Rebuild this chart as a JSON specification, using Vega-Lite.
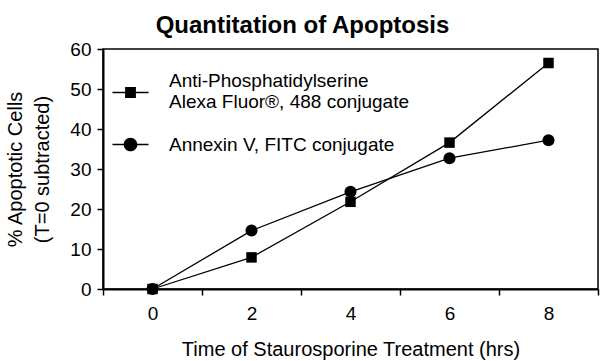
{
  "$schema": "https://vega.github.io/schema/vega-lite/v6.json",
  "width": 495,
  "height": 240,
  "autosize": {"type": "none"},
  "padding": {"left": 103, "top": 49, "right": 2, "bottom": 72},
  "background": "white",
  "config": {
    "font": "Liberation Sans",
    "view": {"stroke": "black", "strokeWidth": 1.5},
    "axis": {"grid": false, "domainColor": "black", "domainWidth": 2, "tickColor": "black", "tickWidth": 1.5, "labelColor": "black", "titleColor": "black", "labelFont": "Liberation Sans", "titleFont": "Liberation Sans", "titleFontWeight": "normal"},
    "legend": {
      "title": null,
      "orient": "none",
      "legendX": 9,
      "legendY": 13,
      "padding": 0,
      "symbolSize": 1300,
      "symbolStrokeWidth": 0,
      "symbolFillColor": "black",
      "symbolOpacity": 1,
      "labelFontSize": 19,
      "labelLineHeight": 24,
      "labelColor": "black",
      "labelLimit": 400,
      "labelOffset": 20,
      "rowPadding": 14
    }
  },
  "title": {
    "text": "Quantitation of Apoptosis",
    "fontSize": 24,
    "fontWeight": "bold",
    "color": "black",
    "font": "Liberation Sans",
    "anchor": "middle",
    "dx": -48,
    "offset": 2
  },
  "data": {
    "values": [
      {"time": 0, "pct": 0, "series": "Anti-Phosphatidylserine|Alexa Fluor®, 488 conjugate"},
      {"time": 2, "pct": 7.9, "series": "Anti-Phosphatidylserine|Alexa Fluor®, 488 conjugate"},
      {"time": 4, "pct": 21.8, "series": "Anti-Phosphatidylserine|Alexa Fluor®, 488 conjugate"},
      {"time": 6, "pct": 36.6, "series": "Anti-Phosphatidylserine|Alexa Fluor®, 488 conjugate"},
      {"time": 8, "pct": 56.5, "series": "Anti-Phosphatidylserine|Alexa Fluor®, 488 conjugate"},
      {"time": 0, "pct": 0, "series": "Annexin V, FITC conjugate"},
      {"time": 2, "pct": 14.6, "series": "Annexin V, FITC conjugate"},
      {"time": 4, "pct": 24.3, "series": "Annexin V, FITC conjugate"},
      {"time": 6, "pct": 32.7, "series": "Annexin V, FITC conjugate"},
      {"time": 8, "pct": 37.2, "series": "Annexin V, FITC conjugate"}
    ]
  },
  "encoding": {
    "x": {
      "field": "time",
      "type": "quantitative",
      "scale": {"domain": [-1, 9], "nice": false, "zero": false},
      "axis": {
        "title": "Time of Staurosporine Treatment (hrs)",
        "titleFontSize": 20,
        "titlePadding": 16,
        "values": [-1, 0, 1, 2, 3, 4, 5, 6, 7, 8, 9],
        "labelExpr": "datum.value % 2 === 0 ? datum.label : ''",
        "tickOpacity": {"condition": {"test": "datum.value % 2 === 0", "value": 0}, "value": 1},
        "tickSize": 6,
        "labelFontSize": 19,
        "labelPadding": 9,
        "labelFlush": false,
        "labelOverlap": false
      }
    },
    "y": {
      "field": "pct",
      "type": "quantitative",
      "scale": {"domain": [0, 60], "nice": false},
      "axis": {
        "title": ["% Apoptotic Cells", "(T=0 subtracted)"],
        "titleFontSize": 20,
        "titleLineHeight": 27,
        "titlePadding": 17,
        "values": [0, 10, 20, 30, 40, 50, 60],
        "tickSize": 6,
        "labelFontSize": 19,
        "labelPadding": 6
      }
    }
  },
  "layer": [
    {
      "mark": {"type": "line", "color": "black", "strokeWidth": 1.3},
      "encoding": {"detail": {"field": "series"}}
    },
    {
      "transform": [{"filter": "indexof(datum.series, 'Anti') === 0"}],
      "mark": {"type": "point", "shape": "square", "filled": true, "color": "black", "opacity": 1, "size": 110}
    },
    {
      "transform": [{"filter": "indexof(datum.series, 'Anti') !== 0"}],
      "mark": {"type": "point", "shape": "circle", "filled": true, "color": "black", "opacity": 1, "size": 145}
    },
    {
      "mark": {"type": "point", "filled": true, "color": "black", "opacity": 0},
      "encoding": {
        "shape": {
          "field": "series",
          "type": "nominal",
          "scale": {
            "domain": ["Anti-Phosphatidylserine|Alexa Fluor®, 488 conjugate", "Annexin V, FITC conjugate"],
            "range": [
              "M-1,0.627H-0.3V0.707H-1Z M0.3,0.627H1V0.707H0.3Z M-0.3,0.367H0.3V0.967H-0.3Z",
              "M-1,-0.04H-0.37V0.04H-1Z M0.37,-0.04H1V0.04H0.37Z M0.38,0A0.38,0.38 0 1,1 -0.38,0A0.38,0.38 0 1,1 0.38,0Z"
            ]
          },
          "legend": {
            "labelExpr": "split(datum.label, '|')"
          }
        }
      }
    }
  ]
}
